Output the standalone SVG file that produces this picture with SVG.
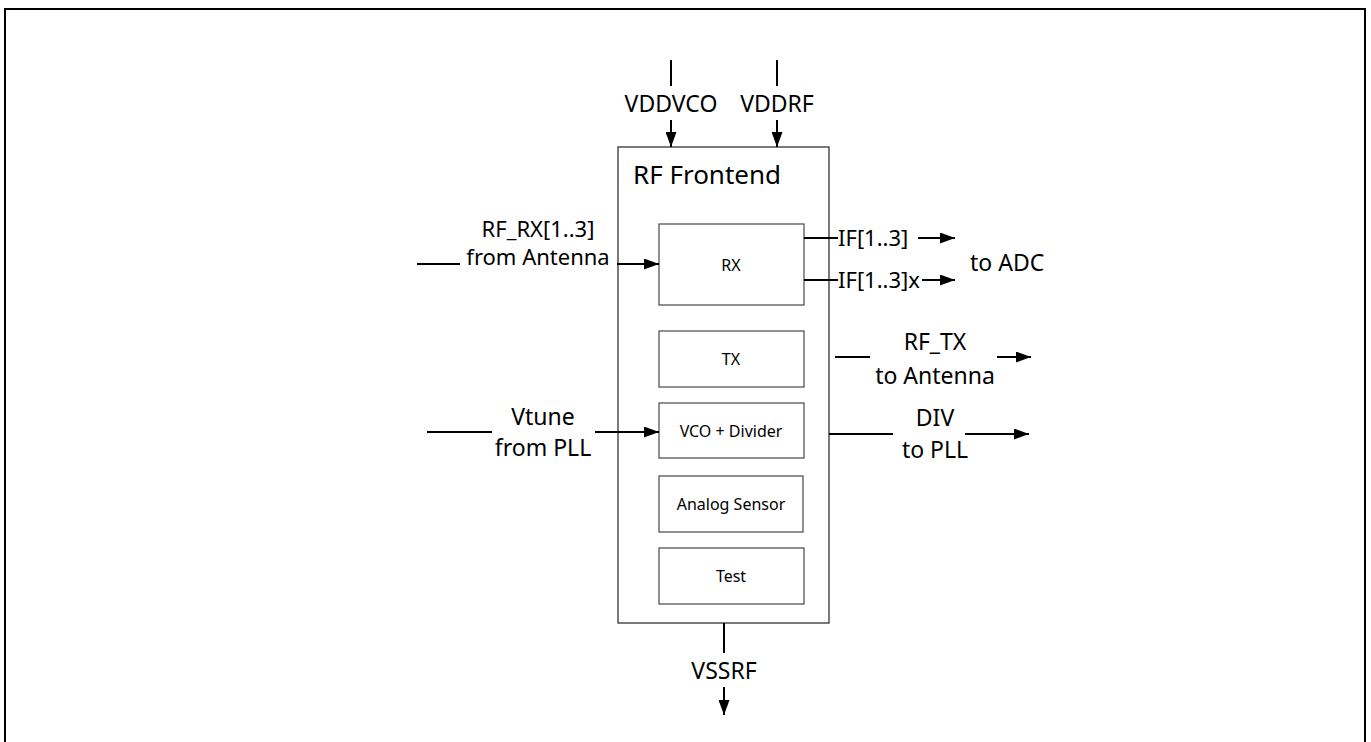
<svg xmlns="http://www.w3.org/2000/svg" width="1371" height="742" viewBox="0 0 1371 742">
<style>
text{font-family:"Noto Sans","Open Sans","DejaVu Sans",sans-serif;fill:#000}
.lbl{font-size:23px}
.lbs{font-size:22px}
.title{font-size:26px}
.small{font-size:16px}
.box{fill:#fff;stroke:#555;stroke-width:1.3}
.frame{fill:#fff;stroke:#333;stroke-width:1.3}
.wire{stroke:#000;stroke-width:2;fill:none}
.arr{stroke:#000;stroke-width:2;fill:none;marker-end:url(#ah)}
</style>
<defs>
<marker id="ah" markerUnits="userSpaceOnUse" markerWidth="15" markerHeight="11" refX="15" refY="5.5" orient="auto">
<path d="M0,0 L15,5.5 L0,11 z" fill="#000"/>
</marker>
</defs>
<rect x="0" y="0" width="1371" height="742" fill="#fff"/>
<rect id="border" x="5" y="9" width="1360" height="760" fill="none" stroke="#000" stroke-width="2"/>
<g id="frontend">
<rect class="frame" x="618" y="147" width="211" height="476"/>
<text class="title" x="633" y="184">RF Frontend</text>
</g>
<g id="rx">
<rect class="box" x="659" y="224" width="145" height="81"/>
<text class="small" x="731" y="271" text-anchor="middle">RX</text>
</g>
<g id="tx">
<rect class="box" x="659" y="331" width="145" height="56"/>
<text class="small" x="731" y="365" text-anchor="middle">TX</text>
</g>
<g id="vco">
<rect class="box" x="659" y="403" width="145" height="55"/>
<text class="small" x="731" y="437" text-anchor="middle">VCO + Divider</text>
</g>
<g id="sensor">
<rect class="box" x="659" y="476" width="144" height="56"/>
<text class="small" x="731" y="510" text-anchor="middle">Analog Sensor</text>
</g>
<g id="test">
<rect class="box" x="659" y="548" width="145" height="56"/>
<text class="small" x="731" y="582" text-anchor="middle">Test</text>
</g>
<g id="connectors">
<line class="wire" x1="671" y1="60" x2="671" y2="86"/>
<line class="arr" x1="671" y1="120" x2="671" y2="147"/>
<line class="wire" x1="777" y1="60" x2="777" y2="86"/>
<line class="arr" x1="777" y1="120" x2="777" y2="147"/>
<line class="wire" x1="417" y1="264" x2="460" y2="264"/>
<line class="arr" x1="617" y1="264" x2="659" y2="264"/>
<line class="wire" x1="804" y1="238" x2="838" y2="238"/>
<line class="arr" x1="918" y1="238" x2="955" y2="238"/>
<line class="wire" x1="804" y1="280" x2="838" y2="280"/>
<line class="arr" x1="922" y1="280" x2="955" y2="280"/>
<line class="wire" x1="835" y1="357" x2="870" y2="357"/>
<line class="arr" x1="997" y1="357" x2="1031" y2="357"/>
<line class="wire" x1="829" y1="434" x2="893" y2="434"/>
<line class="arr" x1="965" y1="434" x2="1029" y2="434"/>
<line class="wire" x1="427" y1="432" x2="492" y2="432"/>
<line class="arr" x1="595" y1="432" x2="659" y2="432"/>
<line class="wire" x1="724" y1="623" x2="724" y2="653"/>
<line class="arr" x1="724" y1="687" x2="724" y2="715"/>
</g>
<g id="labels">
<text class="lbl" x="671" y="112" text-anchor="middle">VDDVCO</text>
<text class="lbl" x="777" y="112" text-anchor="middle">VDDRF</text>
<text class="lbs" x="538" y="237" text-anchor="middle">RF_RX[1..3]</text>
<text class="lbs" x="538" y="265" text-anchor="middle">from Antenna</text>
<text class="lbs" x="838" y="246">IF[1..3]</text>
<text class="lbs" x="838" y="288">IF[1..3]x</text>
<text class="lbl" x="970" y="271">to ADC</text>
<text class="lbl" x="935" y="350" text-anchor="middle">RF_TX</text>
<text class="lbl" x="935" y="384" text-anchor="middle">to Antenna</text>
<text class="lbl" x="935" y="426" text-anchor="middle">DIV</text>
<text class="lbl" x="935" y="458" text-anchor="middle">to PLL</text>
<text class="lbl" x="543" y="425" text-anchor="middle">Vtune</text>
<text class="lbl" x="543" y="456" text-anchor="middle">from PLL</text>
<text class="lbl" x="724" y="679" text-anchor="middle">VSSRF</text>
</g>
</svg>
